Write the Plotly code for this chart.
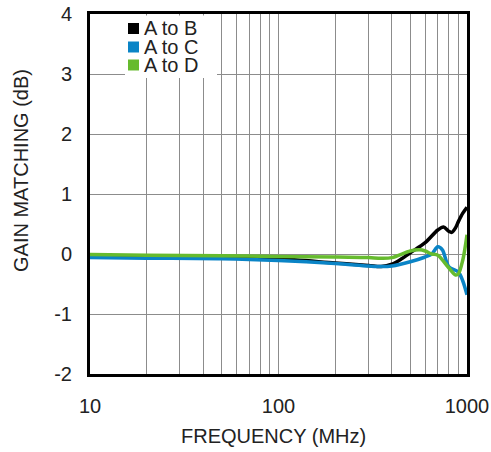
import plotly.graph_objects as go

freq_ab = [10, 20, 50, 100, 200, 300, 350, 400, 450, 500, 600, 700, 750, 800, 830, 870, 900, 950, 1000]
gain_ab = [-0.04, -0.04, -0.05, -0.08, -0.15, -0.19, -0.21, -0.17, -0.08, 0.02, 0.19, 0.40, 0.45, 0.38, 0.36, 0.44, 0.54, 0.68, 0.78]

freq_ac = [10, 20, 50, 100, 200, 300, 350, 400, 500, 600, 650, 700, 740, 800, 900, 950, 1000]
gain_ac = [-0.06, -0.07, -0.08, -0.11, -0.16, -0.20, -0.21, -0.20, -0.13, -0.05, 0.00, 0.12, 0.07, -0.21, -0.30, -0.45, -0.68]

freq_ad = [10, 20, 50, 100, 200, 300, 350, 400, 500, 560, 600, 650, 700, 800, 870, 900, 950, 1000]
gain_ad = [-0.01, -0.02, -0.03, -0.04, -0.05, -0.06, -0.07, -0.06, 0.05, 0.07, 0.05, 0.00, -0.02, -0.23, -0.35, -0.33, -0.10, 0.32]

series_names = ["A to B", "A to C", "A to D"]
series_freqs = [freq_ab, freq_ac, freq_ad]
series_gains = [gain_ab, gain_ac, gain_ad]
series_colors = ["#000000", "#0A84C6", "#66BB2E"]

x_gridvals = [10, 20, 30, 40, 50, 60, 70, 80, 90, 100, 200, 300, 400, 500, 600, 700, 800, 900, 1000]
x_ticktext = ["10", "", "", "", "", "", "", "", "", "100", "", "", "", "", "", "", "", "", "1000"]
y_tickvals = [-2, -1, 0, 1, 2, 3, 4]
y_ticktext = ["-2", "-1", "0", "1", "2", "3", "4"]

W, H = 491, 452
L, R, T, B = 90, 24, 14, 78
PW, PH = W - L - R, H - T - B


def dx(px):
    return (px - L) / PW


def dy(py):
    return (H - B - py) / PH


fig = go.Figure()
for fx, gy, col in zip(series_freqs, series_gains, series_colors):
    fig.add_trace(go.Scatter(x=fx, y=gy, mode="lines",
                             line=dict(color=col, width=3.5, shape="spline", smoothing=0.9),
                             showlegend=False, hoverinfo="skip"))

font = "Liberation Sans, Arial, sans-serif"
txt_color = "#222222"

# legend box (white, hides grid)
shapes = [dict(type="rect", xref="x domain", yref="y domain", x0=dx(125), x1=dx(217), y0=dy(78), y1=dy(15.5),
               fillcolor="white", line=dict(width=0), layer="above")]
annotations = []
row_centers = [28.5, 47, 65]
for name, col, yc in zip(series_names, series_colors, row_centers):
    shapes.append(dict(type="rect", xref="x domain", yref="y domain", x0=dx(128), x1=dx(139),
                       y0=dy(yc + 5.5), y1=dy(yc - 5.5), fillcolor=col, line=dict(width=0), layer="above"))
    annotations.append(dict(text=name, xref="x domain", yref="y domain", x=dx(142), y=dy(yc),
                            xanchor="left", yanchor="middle", showarrow=False,
                            font=dict(size=20, color=txt_color, family=font)))

annotations.append(dict(text="FREQUENCY (MHz)", xref="paper", yref="paper", x=dx(273), y=dy(436),
                        xanchor="center", yanchor="middle", showarrow=False,
                        font=dict(size=20, color=txt_color, family=font)))
annotations.append(dict(text="GAIN MATCHING (dB)", xref="paper", yref="paper", x=dx(21), y=dy(171),
                        xanchor="center", yanchor="middle", showarrow=False, textangle=-90,
                        font=dict(size=20, color=txt_color, family=font)))

fig.update_layout(
    width=W, height=H,
    margin=dict(l=L, r=R, t=T, b=B, autoexpand=False),
    paper_bgcolor="white", plot_bgcolor="white",
    font=dict(family=font, size=20, color=txt_color),
    showlegend=False,
    shapes=shapes,
    annotations=annotations,
    xaxis=dict(type="log", range=[1, 3], tickvals=x_gridvals, ticktext=x_ticktext,
               showgrid=True, gridcolor="#8c8c8c", gridwidth=1, ticks="",
               showline=True, linecolor="black", linewidth=3, mirror=True,
               ticklabelstandoff=12, zeroline=False),
    yaxis=dict(range=[-2, 4], tickvals=y_tickvals, ticktext=y_ticktext,
               showgrid=True, gridcolor="#8c8c8c", gridwidth=1,
               ticks="", showline=True, linecolor="black", linewidth=3, mirror=True,
               zeroline=False, ticklabelstandoff=11),
)

fig.write_html("out.html", config={"displayModeBar": False},
               post_script="document.body.style.margin='0';")
